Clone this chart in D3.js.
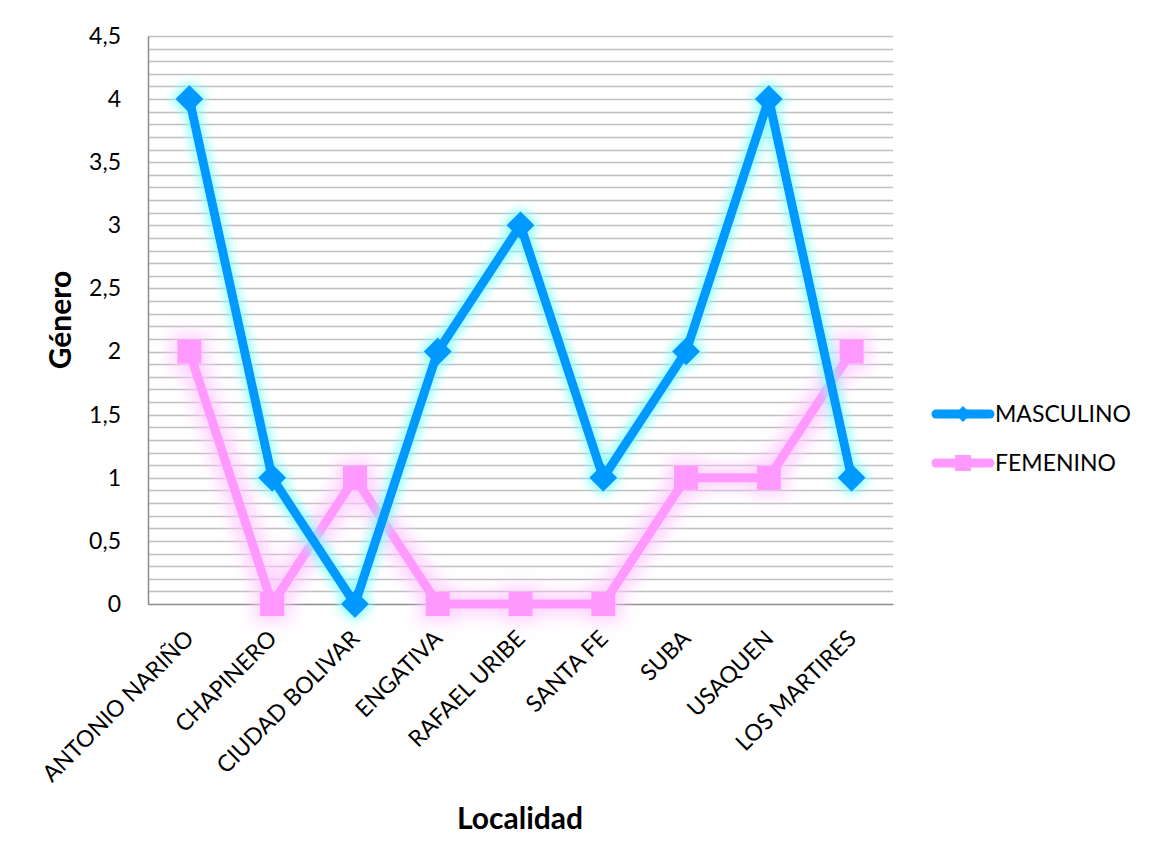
<!DOCTYPE html>
<html>
<head>
<meta charset="utf-8">
<script src="https://cdn.jsdelivr.net/npm/d3@7"></script>
<style>
  html, body { margin: 0; padding: 0; background: #fff; }
  svg { display: block; }
  text { font-family: Lato, "Open Sans", sans-serif; fill: #000; }
</style>
</head>
<body>
<svg id="chart" width="1153" height="867"></svg>
<script>
const categories = ["ANTONIO NARIÑO", "CHAPINERO", "CIUDAD BOLIVAR", "ENGATIVA", "RAFAEL URIBE", "SANTA FE", "SUBA", "USAQUEN", "LOS MARTIRES"];
const masculino = [4, 1, 0, 2, 3, 1, 2, 4, 1];
const femenino = [2, 0, 1, 0, 0, 0, 1, 1, 2];
const seriesNames = ["MASCULINO", "FEMENINO"];
const yTicks = [0, 0.5, 1, 1.5, 2, 2.5, 3, 3.5, 4, 4.5];
const yTitle = "Género";
const xTitle = "Localidad";

const W = 1153, H = 867;
const plot = { left: 148, top: 36, right: 893, bottom: 604 };
const svg = d3.select("#chart");
const FONT = "Lato, 'Open Sans', sans-serif";

const x = d3.scaleBand().domain(categories).range([plot.left, plot.right]);
const y = d3.scaleLinear().domain([0, 4.5]).range([plot.bottom, plot.top]);
const cx = d => x(d) + x.bandwidth() / 2;

// filters for glow
const defs = svg.append("defs");
function glow(id, color, dil, blur, op) {
  const f = defs.append("filter").attr("id", id)
    .attr("x", "-20%").attr("y", "-20%").attr("width", "140%").attr("height", "140%");
  f.append("feMorphology").attr("in", "SourceAlpha").attr("operator", "dilate").attr("radius", dil).attr("result", "d");
  f.append("feGaussianBlur").attr("in", "d").attr("stdDeviation", blur).attr("result", "b");
  f.append("feFlood").attr("flood-color", color).attr("flood-opacity", op).attr("result", "c");
  f.append("feComposite").attr("in", "c").attr("in2", "b").attr("operator", "in").attr("result", "g");
  const m = f.append("feMerge");
  m.append("feMergeNode").attr("in", "g");
  m.append("feMergeNode").attr("in", "SourceGraphic");
}
glow("glowBlue", "#80ffff", 3, 5, 0.8);
glow("glowPink", "#ffc4ff", 6, 8, 0.75);

// gridlines every 0.1
const grid = d3.range(1, 46).map(i => i / 10);
svg.append("g").selectAll("line").data(grid).join("line")
  .attr("x1", plot.left).attr("x2", plot.right)
  .attr("y1", d => Math.round(y(d)) + 0.5).attr("y2", d => Math.round(y(d)) + 0.5)
  .attr("stroke", "#bfbfbf").attr("stroke-width", 1.5);

// axes
const yAxis = d3.axisLeft(y).tickValues(yTicks).tickSize(0).tickPadding(27)
  .tickFormat(d => String(d).replace(".", ","));
const gy = svg.append("g").attr("transform", `translate(${plot.left},0)`).call(yAxis);
gy.select(".domain").attr("stroke", "#8c8c8c").attr("stroke-width", 1.5);
gy.selectAll("text").attr("font-size", 23).attr("font-family", FONT).attr("fill", "#222");

const xAxis = d3.axisBottom(x).tickSize(0).tickPadding(0);
const gx = svg.append("g").attr("transform", `translate(0,${plot.bottom})`).call(xAxis);
gx.select(".domain").attr("stroke", "#8c8c8c").attr("stroke-width", 1.5);
gx.selectAll(".tick text")
  .attr("font-size", 23).attr("font-family", FONT).attr("fill", "#111")
  .attr("text-anchor", "end").attr("dy", 0).attr("y", 0)
  .attr("transform", "translate(6,36) rotate(-45)");

// axis titles
svg.append("text").attr("transform", `translate(71,320) rotate(-90)`)
  .attr("text-anchor", "middle").attr("font-size", 30).attr("font-weight", "bold").text(yTitle);
svg.append("text").attr("x", 520).attr("y", 829)
  .attr("text-anchor", "middle").attr("font-size", 30).attr("font-weight", "bold").text(xTitle);

const line = d3.line().x((d, i) => cx(categories[i])).y(d => y(d));

// FEMENINO
const gf = svg.append("g").attr("filter", "url(#glowPink)");
gf.append("path").datum(femenino).attr("d", line)
  .attr("fill", "none").attr("stroke", "#ff99ff").attr("stroke-width", 9).attr("stroke-linejoin", "round");
gf.selectAll("rect").data(femenino).join("rect")
  .attr("x", (d, i) => cx(categories[i]) - 12).attr("y", d => y(d) - 12)
  .attr("width", 24).attr("height", 24).attr("fill", "#ff99ff");

// MASCULINO
const gm = svg.append("g").attr("filter", "url(#glowBlue)");
gm.append("path").datum(masculino).attr("d", line)
  .attr("fill", "none").attr("stroke", "#0099ff").attr("stroke-width", 9).attr("stroke-linejoin", "round");
gm.selectAll("path.m").data(masculino).join("path").attr("class", "m")
  .attr("d", (d, i) => {
    const px = cx(categories[i]), py = y(d), r = 14;
    return `M${px},${py - r}L${px + r},${py}L${px},${py + r}L${px - r},${py}Z`;
  })
  .attr("fill", "#0099ff");

// legend
const legend = svg.append("g");
const legendItems = [
  { name: seriesNames[0], color: "#0099ff", shape: "diamond", y: 414 },
  { name: seriesNames[1], color: "#ff99ff", shape: "square", y: 463 }
];
legendItems.forEach(it => {
  const g = legend.append("g");
  g.append("line").attr("x1", 936).attr("x2", 990).attr("y1", it.y).attr("y2", it.y)
    .attr("stroke", it.color).attr("stroke-width", 9).attr("stroke-linecap", "round");
  if (it.shape === "diamond") {
    const px = 963, py = it.y, r = 8;
    g.append("path").attr("d", `M${px},${py - r}L${px + r},${py}L${px},${py + r}L${px - r},${py}Z`).attr("fill", it.color);
  } else {
    g.append("rect").attr("x", 955).attr("y", it.y - 8).attr("width", 16).attr("height", 16).attr("fill", it.color);
  }
  g.append("text").attr("x", 995).attr("y", it.y + 8).attr("font-size", 23).attr("font-family", FONT).attr("fill", "#222").text(it.name);
});
</script>
</body>
</html>
